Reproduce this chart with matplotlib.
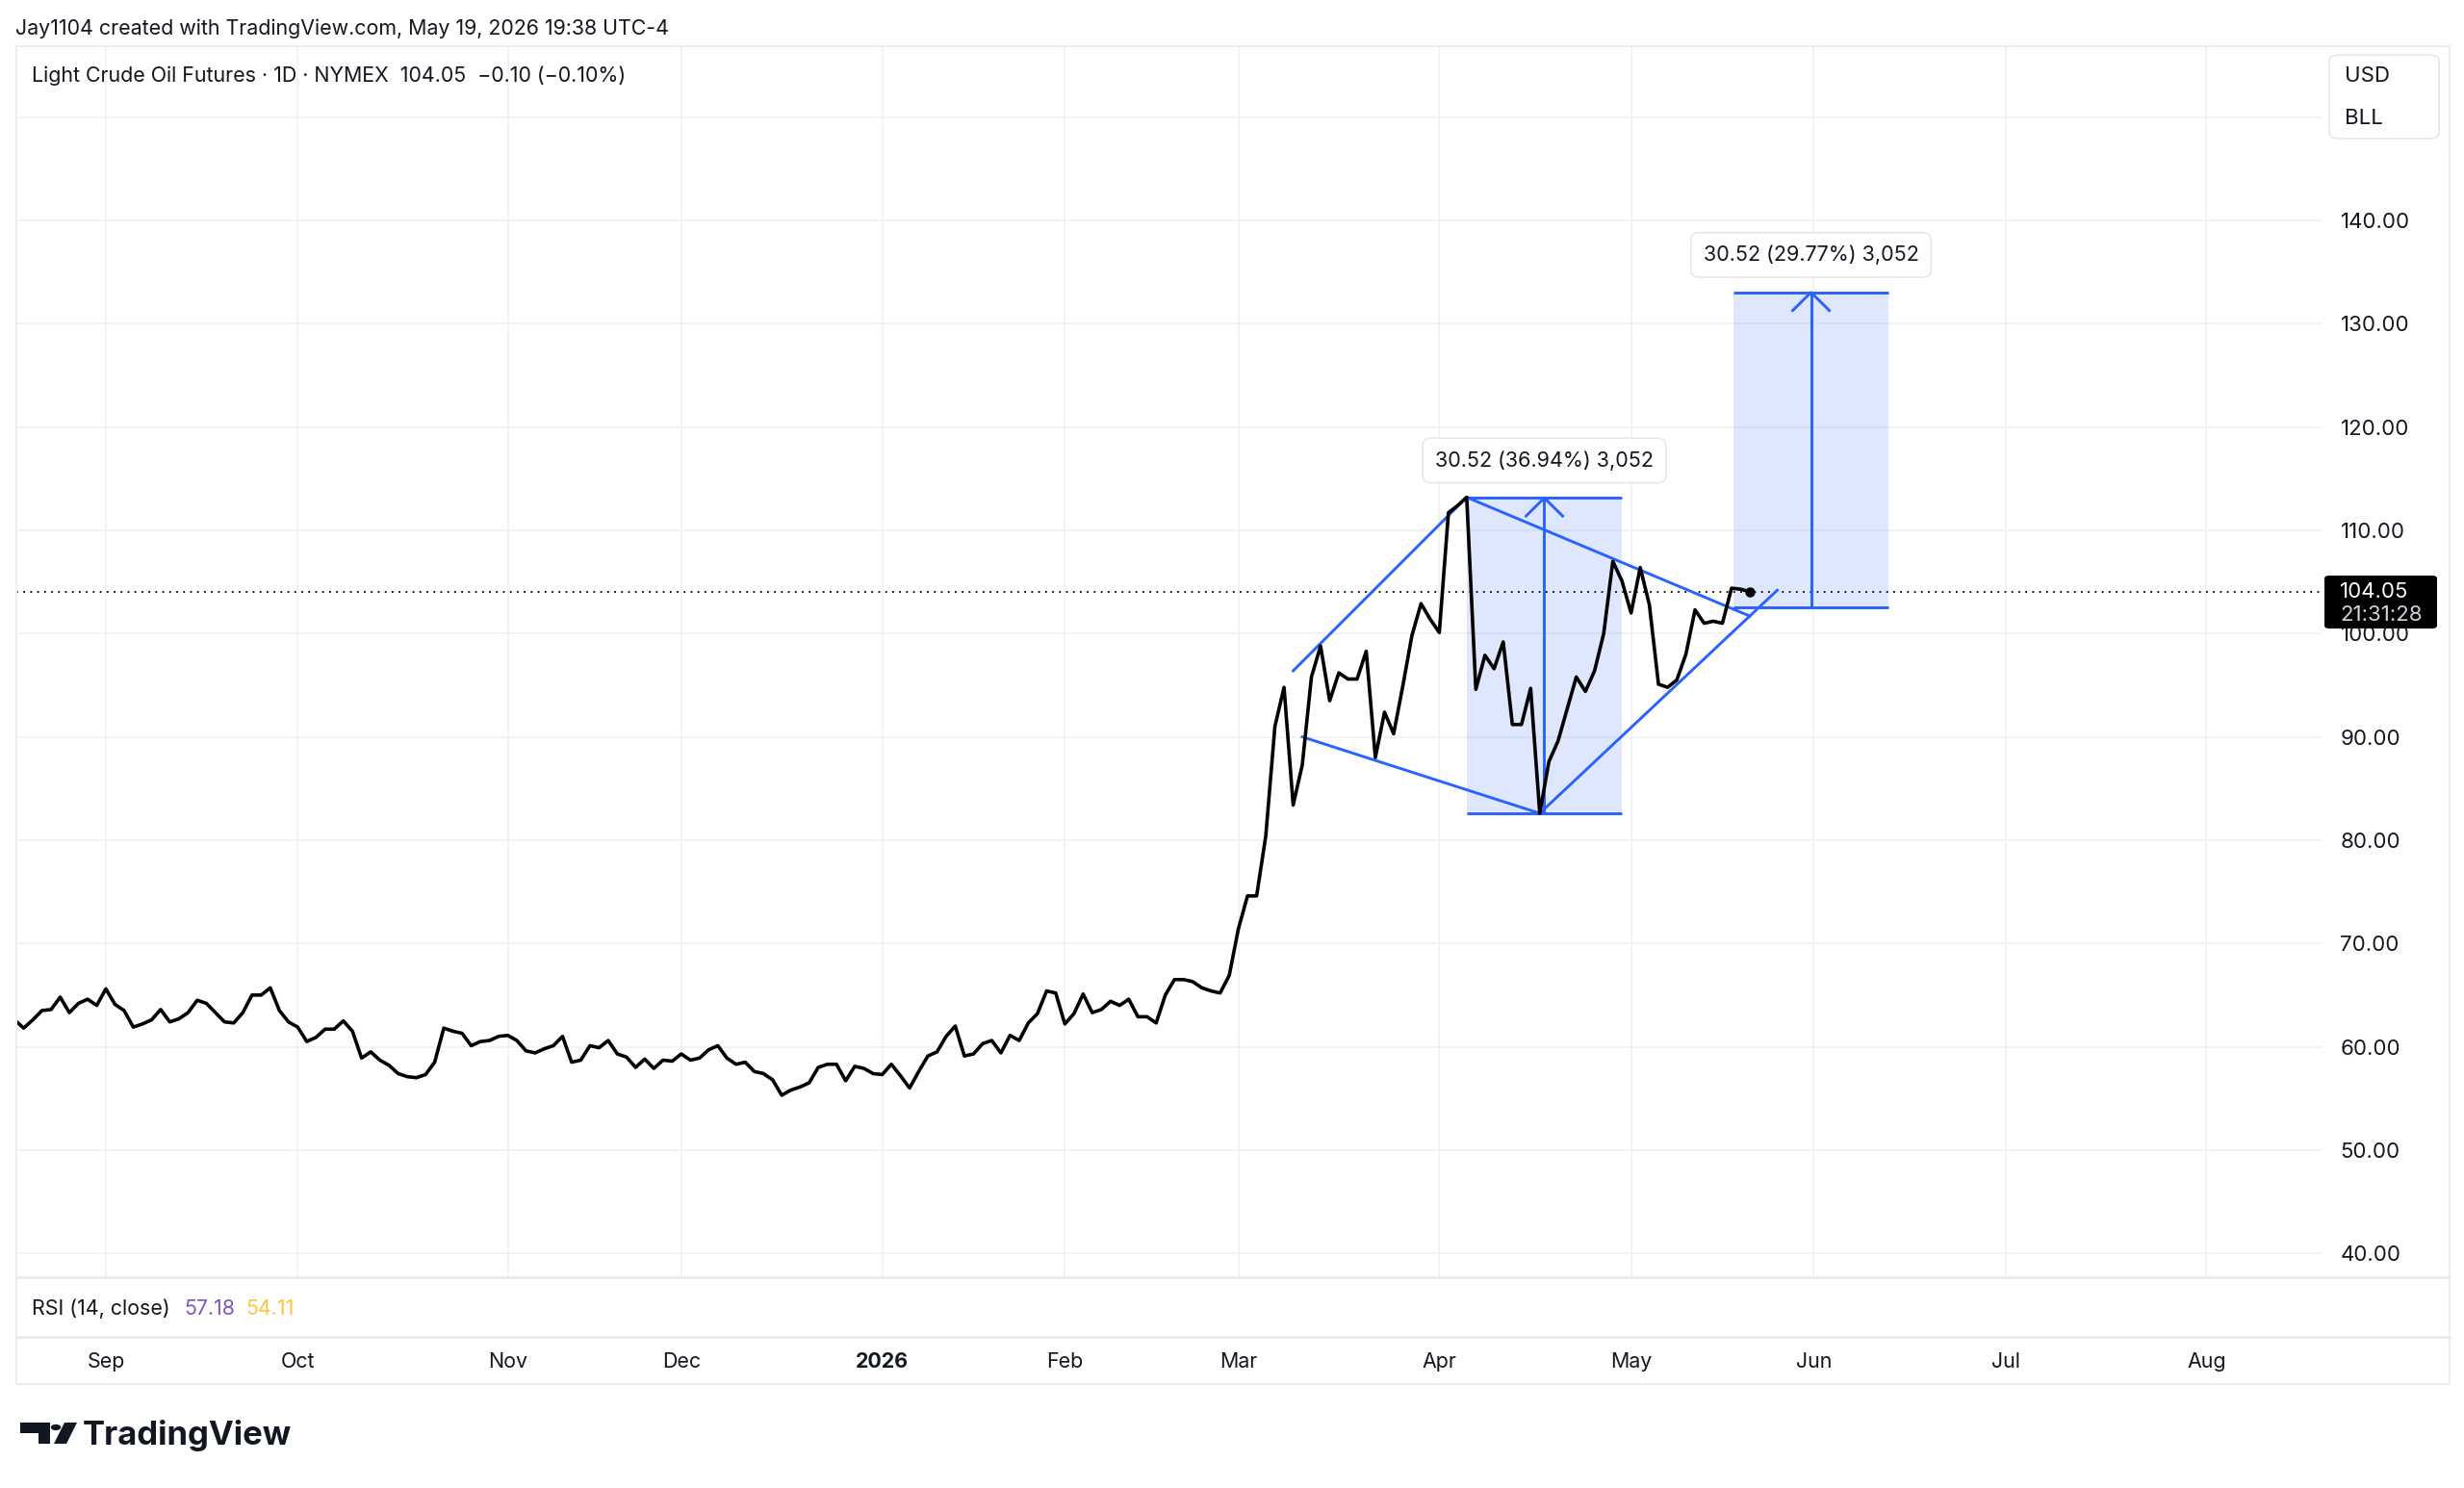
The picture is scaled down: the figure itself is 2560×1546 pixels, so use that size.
import numpy as np
import matplotlib.pyplot as plt
from matplotlib.patches import Rectangle, FancyBboxPatch, Polygon, Circle

plt.rcParams['font.family'] = ['Inter', 'DejaVu Sans']

# daily closes, one per trading bar starting Aug 18 2025 (bar 0) up to the live May 20 bar
close = [62.6, 61.8, 62.6, 63.5, 63.6, 64.8, 63.3, 64.2, 64.6, 64.0,
         65.6, 64.1, 63.5, 61.9, 62.2, 62.6, 63.6, 62.4, 62.7, 63.3,
         64.5, 64.2, 63.3, 62.4, 62.3, 63.3, 65.0, 65.0, 65.7, 63.5,
         62.4, 61.9, 60.5, 60.9, 61.7, 61.7, 62.5, 61.5, 58.9, 59.5,
         58.7, 58.2, 57.4, 57.1, 57.0, 57.3, 58.5, 61.8, 61.5, 61.3,
         60.1, 60.5, 60.6, 61.0, 61.1, 60.6, 59.6, 59.4, 59.8, 60.1,
         61.0, 58.5, 58.7, 60.1, 59.9, 60.6, 59.3, 59.0, 58.0, 58.8,
         57.9, 58.7, 58.6, 59.3, 58.7, 58.9, 59.7, 60.1, 58.9, 58.3,
         58.5, 57.6, 57.4, 56.8, 55.3, 55.8, 56.1, 56.5, 58.0, 58.3,
         58.3, 56.7, 58.1, 57.9, 57.4, 57.3, 58.3, 57.2, 56.0, 57.6,
         59.1, 59.5, 61.0, 62.0, 59.1, 59.3, 60.3, 60.6, 59.4, 61.1,
         60.6, 62.3, 63.2, 65.4, 65.2, 62.2, 63.2, 65.1, 63.3, 63.6,
         64.4, 64.0, 64.6, 62.9, 62.9, 62.3, 65.0, 66.5, 66.5, 66.3,
         65.7, 65.4, 65.2, 66.9, 71.4, 74.6, 74.6, 80.4, 91.0, 94.8,
         83.4, 87.3, 95.8, 98.8, 93.5, 96.2, 95.6, 95.6, 98.3, 88.0,
         92.4, 90.3, 94.9, 99.8, 102.9, 101.4, 100.1, 111.7, 112.4, 113.2,
         94.6, 97.9, 96.6, 99.2, 91.2, 91.2, 94.7, 82.6, 87.6, 89.6,
         92.7, 95.8, 94.4, 96.4, 100.0, 107.0, 105.1, 102.0, 106.4, 102.8,
         95.1, 94.8, 95.5, 98.0, 102.3, 101.0, 101.2, 101.0, 104.4, 104.3,
         104.05]
last_price = 104.05

month_labels = ['Sep', 'Oct', 'Nov', 'Dec', '2026', 'Feb', 'Mar', 'Apr', 'May', 'Jun', 'Jul', 'Aug']
month_bars = [10, 31, 54, 73, 95, 115, 134, 156, 177, 197, 218, 240]

price_ticks = [40, 50, 60, 70, 80, 90, 100, 110, 120, 130, 140, 150]

# drawings: trend lines (bar, price) pairs
trend_lines = [((140, 96.4), (159, 113.2)),
               ((141, 90.0), (167, 82.6)),
               ((159, 113.2), (190, 101.7)),
               ((167, 82.6), (193, 104.2))]
# price range tools: left bar, right bar, low, high, label
ranges = [(159, 176, 82.62, 113.14, '30.52 (36.94%) 3,052'),
          (188.2, 205.2, 102.52, 133.04, '30.52 (29.77%) 3,052')]

W, H = 2560, 1546
TXT = '#131722'
BLUE = '#2962ff'
FS = 15.4


def fx(px):
    return px / W


def fy(py):
    return 1 - py / H


fig = plt.figure(figsize=(25.6, 15.46), dpi=100)
fig.patch.set_facecolor('white')

ax = fig.add_axes([fx(17), fy(1327), fx(2412) - fx(17), fy(48) - fy(1327)])
ax.set_xlim(0.2, 252.6)
ax.set_ylim(37.68, 156.88)
for s in ax.spines.values():
    s.set_visible(False)

ax.set_xticks(month_bars)
ax.set_yticks(price_ticks)
ax.set_yticklabels(['%.2f' % v if v < 150 else '' for v in price_ticks])
ax.yaxis.tick_right()
ax.tick_params(axis='x', length=0, labelbottom=False)
ax.tick_params(axis='y', length=0, pad=14, labelsize=16, labelcolor=TXT)
ax.grid(color='#f0f1f4', lw=1.2)
ax.set_axisbelow(True)

k = np.arange(len(close))

# price range boxes
for x0, x1, lo, hi, lab in ranges:
    ax.add_patch(Rectangle((x0, lo), x1 - x0, hi - lo, facecolor=BLUE, alpha=0.15,
                           edgecolor='none', zorder=1))
    ax.hlines([lo, hi], x0, x1, color=BLUE, lw=2.1, zorder=3)
    xc = (x0 + x1) / 2
    ax.vlines(xc, lo, hi, color=BLUE, lw=2.1, zorder=3)
    ax.plot([xc - 2, xc, xc + 2], [hi - 1.75, hi, hi - 1.75], color=BLUE, lw=2.1, zorder=3)
    ax.annotate(lab, xy=(xc, hi), xytext=(0, 28), textcoords='offset points',
                ha='center', va='center', fontsize=15.5, color=TXT, zorder=6,
                bbox=dict(boxstyle='round,pad=0.6,rounding_size=0.4', fc='white',
                          ec='#e6e8ee', lw=1.2))

for (xa, ya), (xb, yb) in trend_lines:
    ax.plot([xa, xb], [ya, yb], color=BLUE, lw=2.1, zorder=3)

ax.axhline(last_price, color='black', lw=1.3, ls=(0, (1, 3)), zorder=2)
ax.plot(k, close, color='black', lw=2.6, zorder=4)
ax.plot(k[-1], close[-1], 'o', color='black', ms=6.5, zorder=5)

# time axis pane
axt = fig.add_axes([fx(17), fy(1441), fx(2412) - fx(17), fy(1389) - fy(1441)], sharex=ax)
axt.set_ylim(0, 1)
axt.axis('off')
for lab, b in zip(month_labels, month_bars):
    axt.text(b, 0.5, lab, ha='center', va='center', fontsize=FS, color=TXT,
             fontweight='bold' if lab == '2026' else 'normal')

# pane frames
fig.patches.append(Rectangle((fx(17), fy(1438)), fx(2545) - fx(17), fy(48) - fy(1438),
                             transform=fig.transFigure, fill=False, ec='#eceef2', lw=1.5))
for yy in [1327, 1389]:
    fig.add_artist(plt.Line2D([fx(17), fx(2545)], [fy(yy), fy(yy)], color='#e8eaee', lw=2))

# header
fig.text(fx(16), fy(30), 'Jay1104 created with TradingView.com, May 19, 2026 19:38 UTC-4',
         fontsize=FS, color=TXT, va='center')
fig.text(fx(33), fy(79), 'Light Crude Oil Futures · 1D · NYMEX  104.05  \u22120.10 (\u22120.10%)',
         fontsize=FS, color=TXT, va='center')

# RSI pane legend
fig.text(fx(33), fy(1360), 'RSI (14, close)', fontsize=FS, color=TXT, va='center')
fig.text(fx(191), fy(1360), '57.18', fontsize=FS, color='#7e57c2', va='center')
fig.text(fx(255), fy(1360), '54.11', fontsize=FS, color='#f7c843', va='center')

# currency / unit box
fig.patches.append(FancyBboxPatch((fx(2420), fy(144)), fx(2534) - fx(2420), fy(57) - fy(144),
                                  boxstyle='round,pad=0,rounding_size=0.004',
                                  transform=fig.transFigure, fc='white', ec='#e6e8ee',
                                  lw=1.2, zorder=5))
fig.text(fx(2436), fy(79), 'USD', fontsize=16, color=TXT, va='center', zorder=6)
fig.text(fx(2436), fy(123), 'BLL', fontsize=16, color=TXT, va='center', zorder=6)

# last price label
fig.patches.append(FancyBboxPatch((fx(2415), fy(653)), fx(2532) - fx(2415), fy(598) - fy(653),
                                  boxstyle='round,pad=0,rounding_size=0.002',
                                  transform=fig.transFigure, fc='black', ec='none', zorder=5))
fig.text(fx(2431), fy(615), '%.2f' % last_price, fontsize=16, color='white', va='center', zorder=6)
fig.text(fx(2431), fy(639), '21:31:28', fontsize=16, color='#d1d4dc', va='center', zorder=6)

# TradingView logo
fig.patches.append(Polygon([(fx(21), fy(1478)), (fx(52), fy(1478)), (fx(52), fy(1500)),
                            (fx(40), fy(1500)), (fx(40), fy(1489)), (fx(21), fy(1489))],
                           closed=True, transform=fig.transFigure, fc='#131722', ec='none'))
fig.patches.append(Circle((fx(58), fy(1483)), 5.2 / W, transform=fig.transFigure,
                          fc='#131722', ec='none'))
fig.patches.append(Polygon([(fx(67), fy(1478)), (fx(80), fy(1478)), (fx(69), fy(1500)),
                            (fx(56), fy(1500))],
                           closed=True, transform=fig.transFigure, fc='#131722', ec='none'))
fig.text(fx(86), fy(1491), 'TradingView', fontsize=25, fontweight='bold', color='#131722',
         va='center')

fig.savefig('out.png', dpi=100, facecolor='white')
